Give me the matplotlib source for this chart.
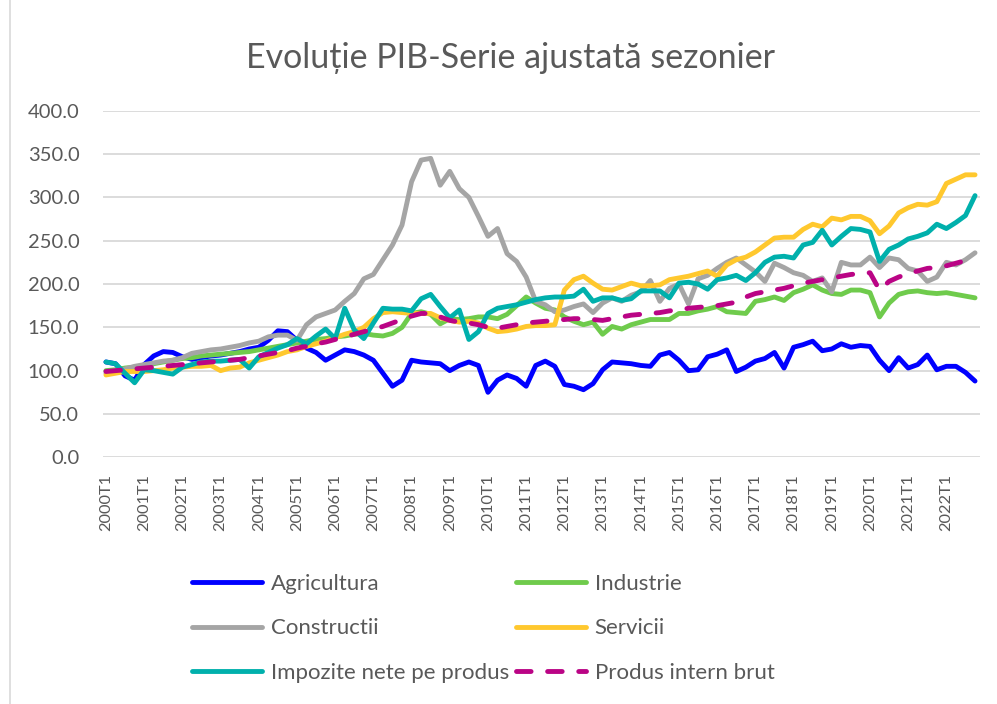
import matplotlib
matplotlib.use("Agg")
import matplotlib.pyplot as plt
from matplotlib.lines import Line2D

plt.rcParams['font.family'] = ['Lato', 'DejaVu Sans']

quarters = [f"{y}T{q}" for y in range(2000, 2023) for q in range(1, 5)]

agricultura = [110, 108, 94, 89, 107, 117, 122, 121, 116, 113, 115, 117, 118, 120, 122, 125,
               127, 135, 146, 145, 135, 126, 121, 112, 118, 124, 122, 118, 112, 97, 82, 89,
               112, 110, 109, 108, 100, 106, 110, 106, 75, 89, 95, 91, 82, 106, 111, 105,
               84, 82, 78, 85, 101, 110, 109, 108, 106, 105, 118, 121, 112, 100, 101, 116,
               119, 124, 99, 104, 111, 114, 121, 103, 127, 130, 134, 123, 125, 131, 127, 129,
               128, 112, 100, 115, 103, 107, 118, 101, 105, 105, 98, 88]

industrie = [100, 101, 103, 104, 106, 108, 110, 112, 114, 115, 117, 118, 119, 120, 121, 122,
             124, 126, 128, 130, 132, 134, 136, 137, 139, 140, 142, 143, 141, 140, 143, 150,
             166, 168, 165, 154, 160, 159, 160, 162, 162, 160, 165, 175, 185, 178, 172, 170,
             162, 157, 153, 156, 142, 151, 148, 153, 156, 159, 159, 159, 166, 166, 169, 171,
             174, 168, 167, 166, 180, 182, 185, 181, 190, 194, 199, 193, 189, 188, 193, 193,
             190, 162, 178, 188, 191, 192, 190, 189, 190, 188, 186, 184]

constructii = [97, 100, 102, 105, 107, 109, 111, 112, 115, 120, 122, 124, 125, 127, 129, 132,
               134, 139, 141, 141, 135, 153, 162, 166, 170, 180, 189, 206, 211, 228, 245, 268,
               318, 343, 345, 314, 330, 310, 300, 278, 255, 264, 235, 226, 208, 180, 176, 168,
               170, 174, 177, 167, 178, 184, 180, 187, 191, 204, 180, 195, 200, 177, 206, 210,
               218, 225, 230, 222, 214, 203, 224, 219, 213, 210, 203, 207, 191, 225, 222, 222,
               231, 219, 230, 228, 218, 215, 203, 208, 225, 222, 228, 236]

servicii = [95, 97, 99, 99, 99, 100, 101, 103, 104, 105, 105, 106, 100, 103, 104, 109,
            112, 115, 118, 122, 124, 128, 131, 134, 138, 142, 145, 150, 160, 167, 168, 167,
            166, 166, 166, 161, 158, 156, 157, 155, 149, 145, 146, 148, 151, 152, 152, 153,
            193, 205, 209, 201, 194, 193, 197, 201, 198, 198, 199, 205, 207, 209, 212, 215,
            209, 222, 228, 231, 237, 245, 253, 254, 254, 263, 269, 266, 276, 274, 278, 278,
            273, 258, 267, 282, 288, 292, 291, 295, 316, 321, 326, 326]

impozite = [110, 108, 97, 86, 101, 100, 98, 96, 104, 107, 110, 111, 111, 112, 113, 103,
            116, 121, 126, 130, 137, 131, 140, 148, 137, 172, 147, 137, 155, 172, 171, 171,
            169, 183, 188, 174, 161, 170, 136, 145, 166, 172, 174, 176, 179, 182, 184, 185,
            185, 186, 194, 180, 184, 184, 181, 183, 192, 192, 192, 184, 201, 202, 200, 194,
            205, 207, 210, 204, 213, 225, 231, 232, 230, 245, 248, 262, 245, 255, 264, 263,
            260, 226, 240, 245, 252, 255, 259, 269, 264, 271, 279, 302]

pib = [99, 100, 101, 102, 103, 104, 105, 106, 107, 108, 109, 110, 111, 112, 113, 115,
       117, 119, 121, 123, 126, 128, 131, 133, 136, 139, 142, 145, 148, 151, 155, 159,
       163, 166, 166, 162, 158, 156, 155, 153, 150, 149, 151, 153, 155, 156, 157, 158,
       159, 160, 160, 159, 158, 160, 162, 164, 165, 166, 167, 169, 170, 172, 173, 174,
       175, 177, 179, 185, 189, 191, 193, 195, 198, 201, 203, 205, 207, 209, 211, 212,
       213, 193, 203, 208, 212, 215, 218, 219, 221, 224, 227, 230]

series_names = ["Agricultura", "Industrie", "Constructii", "Servicii",
                "Impozite nete pe produs", "Produs intern brut"]
series_values = [agricultura, industrie, constructii, servicii, impozite, pib]
colors = ["#0000FF", "#6FCB4C", "#A5A5A5", "#FFC82E", "#00B0AC", "#BA0485"]

W, H = 997, 704
fig = plt.figure(figsize=(W / 100, H / 100), dpi=100)
ax = fig.add_axes([103 / W, 1 - 457.3 / H, (980 - 103) / W, (457.3 - 110.7) / H])

x = list(range(len(quarters)))
lw = 3.5
for name, vals, col in zip(series_names, series_values, colors):
    if name == "Produs intern brut":
        ax.plot(x, vals, color=col, lw=lw, linestyle=(0, (3.0, 3.4)),
                dash_capstyle='round', solid_capstyle='round', label=name, zorder=5)
    else:
        ax.plot(x, vals, color=col, lw=lw, solid_capstyle='round',
                solid_joinstyle='round', label=name)

ax.set_ylim(0, 400)
ax.set_xlim(-0.31, 91.52)
ax.set_yticks(range(0, 401, 50))
ax.set_yticklabels([f"{v:.1f}" for v in range(0, 401, 50)])
ax.set_xticks(x[::4])
ax.set_xticklabels(quarters[::4], rotation=90)
ax.tick_params(axis='both', length=0, colors='#595959')
ax.tick_params(axis='y', labelsize=14.5, pad=17)
ax.tick_params(axis='x', labelsize=11.8, pad=12)
ax.grid(axis='y', color='#D9D9D9', lw=1.3)
ax.set_axisbelow(True)
for s in ax.spines.values():
    s.set_visible(False)

fig.text(511 / W, 1 - 58 / H, "Evoluție PIB-Serie ajustată sezonier", ha='center', va='center',
         fontsize=24.5, color='#595959')

handles = ax.get_legend_handles_labels()[0]
order = [0, 2, 4, 1, 3, 5]
leg = fig.legend([handles[i] for i in order], [series_names[i] for i in order],
                 ncol=2, loc='upper left', bbox_to_anchor=(192 / W, 1 - 574 / H),
                 frameon=False, fontsize=16, handlelength=3.15, handletextpad=0.4,
                 columnspacing=0.3, labelspacing=1.1, borderaxespad=0, borderpad=0)
for t in leg.get_texts():
    t.set_color('#595959')

fig.add_artist(Line2D([10 / W, 10 / W], [0, 1], color='#D9D9D9', lw=1.2))

fig.savefig("out.png", dpi=100)
